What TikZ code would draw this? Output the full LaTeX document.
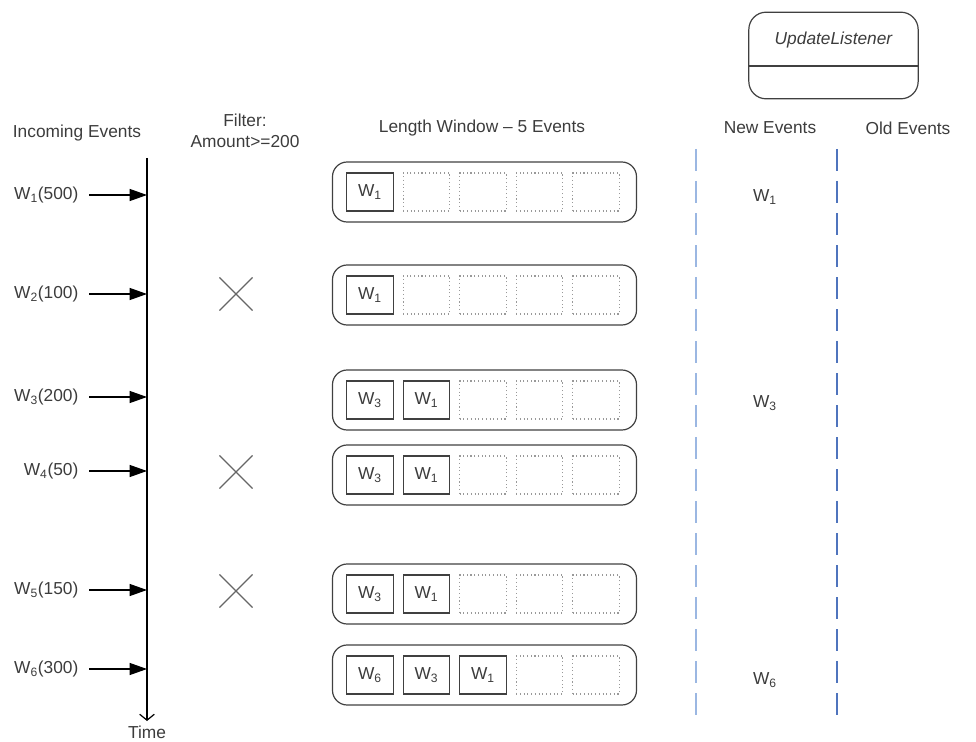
\documentclass[tikz,border=0pt]{standalone}
\usepackage{fontspec}
\setmainfont{Liberation Sans}
\usepackage{xcolor}
\usetikzlibrary{arrows.meta}
\usetikzlibrary{shapes.misc}

\definecolor{txtgray}{RGB}{60,60,60}
\definecolor{lightline}{RGB}{155,183,226}
\definecolor{darkline}{RGB}{79,116,189}

\begin{document}
\begin{tikzpicture}[
		x=0.75pt, y=-0.75pt,
		txt/.style={
			font=\fontsize{13}{15.5}\selectfont,
			text=txtgray,
			inner sep=1pt
			},
		evarrow/.style={
			line width=0.8pt,
			-{Triangle[length=13pt,width=9pt]}
			},
		window/.style={
			draw=black!75,
			line width=0.9pt,
			rounded corners=11pt,
			minimum width=228pt,
			minimum height=45pt
			},
		full/.style={
			txt,
			draw=black!75,
			line width=0.9pt,
			minimum width=35pt,
			minimum height=28.5pt,
			inner sep=0pt
			},
		empty/.style={
			draw=black!40,
			dotted,
			line width=0.8pt,
			minimum width=35pt,
			minimum height=28.5pt
			},
		reject/.style={
			cross out,
			draw=black!60,
			line width=0.8pt,
			minimum size=24pt,
			inner sep=0pt
			},
		split/.style={
			line width=1.2pt,
			dash pattern=on 16.5pt off 7.5pt
			}
		]

		\useasboundingbox (0,0) rectangle (976,742);

		% headers
		\node[txt] (hinc) at (77,133) {Incoming Events};
		\node[txt, align=center] (hfilt) at (245,131) {Filter:\\Amount>=200};
		\node[txt] (hwin) at (482,128) {Length Window -- 5 Events};
		\node[txt] (hnew) at (770,128) {New Events};
		\node[txt] (hold) at (908,128) {Old Events};

		% listener
		\node[draw=black!75, line width=0.9pt, rounded corners=13pt, minimum width=127pt, minimum height=65pt] (listen) at (833.5,55.5) {};
		\draw[black!75, line width=0.9pt] (listen.west |- 0,66) -- (listen.east |- 0,66);
		\node[txt, font=\fontsize{13}{15.5}\selectfont\itshape] (lname) at (833.5,40) {UpdateListener};

		% time axis
		\coordinate (ttop) at (147,158);
		\coordinate (tbot) at (147,721);
		\draw[line width=0.9pt, -{Straight Barb[length=4.5pt,width=11pt]}] (ttop) -- (tbot);
		\node[txt, inner sep=0pt] (time) at (147,732) {Time};

		% new / old separators
		\coordinate (ln1) at (696,149);
		\coordinate (ln2) at (696,721);
		\coordinate (lo1) at (837,149);
		\coordinate (lo2) at (837,721);
		\draw[split, lightline] (ln1) -- (ln2);
		\draw[split, darkline] (lo1) -- (lo2);

		% incoming events
		\coordinate (t1) at (147,195);
		\coordinate (t2) at (147,294);
		\coordinate (t3) at (147,397);
		\coordinate (t4) at (147,471);
		\coordinate (t5) at (147,590);
		\coordinate (t6) at (147,669);
		\node[txt, anchor=east] (e1) at (80,195) {W\textsubscript{1}(500)};
		\node[txt, anchor=east] (e2) at (80,294) {W\textsubscript{2}(100)};
		\node[txt, anchor=east] (e3) at (80,397) {W\textsubscript{3}(200)};
		\node[txt, anchor=east] (e4) at (80,471) {W\textsubscript{4}(50)};
		\node[txt, anchor=east] (e5) at (80,590) {W\textsubscript{5}(150)};
		\node[txt, anchor=east] (e6) at (80,669) {W\textsubscript{6}(300)};
		\foreach \i in {1,...,6}
			\draw[evarrow] ([xshift=7pt]e\i.east) -- (t\i);

		% filtered out
		\node[reject] (x2) at (236,294) {};
		\node[reject] (x4) at (236,472) {};
		\node[reject] (x5) at (236,591) {};

		% length windows
		\foreach \n/\y in {1/192, 2/295, 3/400, 4/475, 5/594, 6/675} {
			\node[window] (w\n) at (484.5,\y) {};
			\foreach \c in {1,...,5}
				\node[empty] (w\n c\c) at (370+56.5*\c-56.5,\y) {};
		}
		\node[full] (f1a) at (370,192) {W\textsubscript{1}};
		\node[full] (f2a) at (370,295) {W\textsubscript{1}};
		\node[full, fill=white] (f3a) at (370,400) {W\textsubscript{3}};
		\node[full, fill=white] (f3b) at (426.5,400) {W\textsubscript{1}};
		\node[full, fill=white] (f4a) at (370,475) {W\textsubscript{3}};
		\node[full, fill=white] (f4b) at (426.5,475) {W\textsubscript{1}};
		\node[full, fill=white] (f5a) at (370,594) {W\textsubscript{3}};
		\node[full, fill=white] (f5b) at (426.5,594) {W\textsubscript{1}};
		\node[full, fill=white] (f6a) at (370,675) {W\textsubscript{6}};
		\node[full, fill=white] (f6b) at (426.5,675) {W\textsubscript{3}};
		\node[full, fill=white] (f6c) at (483,675) {W\textsubscript{1}};

		% new events
		\node[txt] (n1) at (765,197) {W\textsubscript{1}};
		\node[txt] (n3) at (765,403) {W\textsubscript{3}};
		\node[txt] (n6) at (765,680) {W\textsubscript{6}};

\end{tikzpicture}
\end{document}
